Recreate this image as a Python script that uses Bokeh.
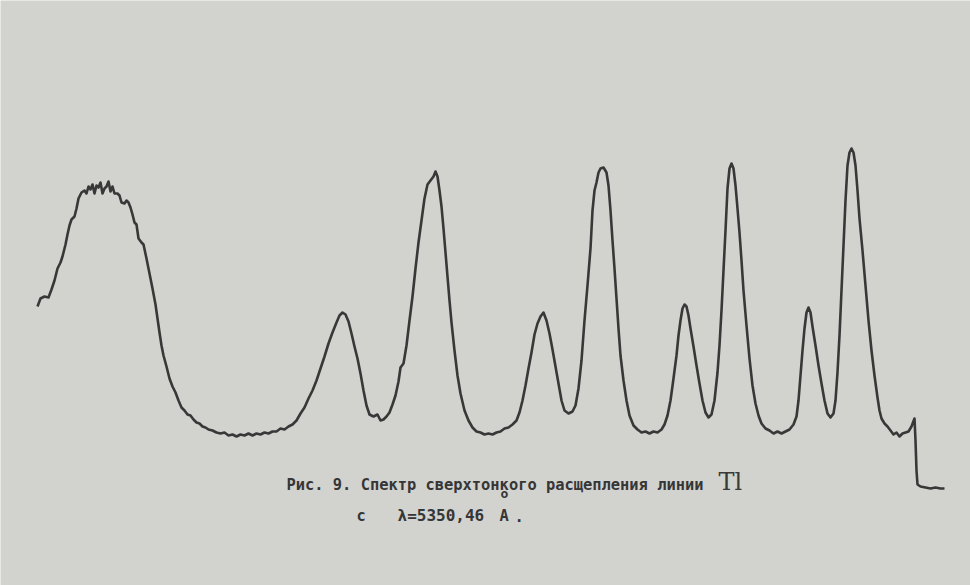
from bokeh.plotting import figure
from bokeh.models import Range1d
from bokeh.core.properties import value
from bokeh.embed import file_html
from bokeh.resources import INLINE

# Recorder trace: channel position and pen deflection (measured from top of chart, downwards)
channel = [37,40,44,48,51,54,57,60,62,65,67,69,71,74,76,78,81,84,86,88,90,92,94,96,98,100,102,104,106,108,110,112,114,117,119,121,124,126,128,130,132,134,136,138,141,143,146,148,150,152,155,157,159,161,163,166,169,172,175,178,181,184,187,190,193,196,199,202,205,208,212,216,220,224,228,232,236,240,244,248,252,256,260,264,268,272,276,280,284,288,292,296,300,304,308,312,316,320,324,328,332,336,339,342,345,348,351,354,357,360,363,366,369,373,377,380,383,386,389,392,395,398,400,403,406,409,412,415,418,421,424,427,430,433,435,437,439,441,443,445,447,449,451,454,457,460,464,468,472,476,480,484,488,492,496,500,504,508,512,516,519,522,525,528,531,534,537,540,543,546,549,552,555,558,561,564,568,572,575,578,581,584,587,590,592,594,596,598,600,603,606,608,610,612,614,616,618,620,623,626,629,633,637,641,645,649,653,657,661,664,667,670,673,676,678,680,682,684,686,688,690,693,696,699,702,705,708,711,714,717,719,721,723,725,727,729,731,733,735,737,739,741,743,746,749,752,755,758,761,765,769,773,777,781,785,789,793,796,798,800,802,804,806,808,810,812,815,818,821,824,827,830,833,835,837,839,841,843,845,847,849,851,853,855,857,859,862,865,868,871,874,877,879,881,884,887,890,893,896,899,902,905,908,911,914,915,916,917,920,925,930,935,940,944]
deflection = [306,298,296,297,289,280,268,262,256,244,234,225,219,216,208,198,192,190,193,186,189,184,193,185,187,182,193,188,186,181,191,186,193,193,195,202,203,200,202,207,214,222,224,238,242,244,258,268,278,288,304,318,332,345,355,366,378,386,392,400,407,410,414,415,419,422,423,426,427,429,430,432,433,432,435,434,436,434,435,433,435,433,434,432,433,431,431,428,429,426,424,420,413,407,398,390,380,368,356,343,332,322,315,312,314,321,333,346,358,373,390,405,414,416,414,420,419,416,412,404,395,381,367,363,345,320,296,268,242,220,198,184,180,176,171,176,190,206,228,252,276,300,322,350,375,393,410,420,427,431,432,434,433,434,432,431,428,427,424,420,412,400,385,368,352,334,323,316,312,320,333,349,366,383,400,410,413,411,405,388,360,320,285,248,210,190,182,172,168,167,172,185,210,240,268,298,328,355,380,400,415,425,429,432,431,433,431,432,429,424,415,400,378,355,335,320,308,304,306,315,328,346,365,383,400,412,417,414,400,372,345,310,270,230,188,168,163,168,185,208,232,260,290,325,358,385,403,415,423,428,430,433,431,433,431,429,424,416,400,375,350,328,312,307,312,326,345,365,383,400,413,417,413,400,372,335,290,245,200,165,152,148,152,165,190,218,250,285,320,350,375,397,410,418,423,426,430,434,432,436,433,432,431,426,418,440,470,484,486,487,488,487,488,488]

caption_1 = "Рис. 9. Спектр сверхтонкого расщепления линии"
element = "Tl"
caption_2a = "с"
caption_2b = "λ=5350,46"
unit_letter = "A"
unit_ring = "o"
period = "."

paper = "#d2d2cf"
ink = "#383838"

p = figure(width=970, height=585, output_backend="svg", toolbar_location=None,
           x_range=Range1d(0, 970), y_range=Range1d(585, 0),
           min_border=0, background_fill_color=paper, border_fill_color=paper)
p.axis.visible = False
p.grid.visible = False
p.outline_line_color = None

p.line(channel, deflection, line_color=ink, line_width=2.6, line_join="round")

font = value("DejaVu Sans Mono")
common = dict(text_color="#363636", text_font=font, text_font_style="bold",
              text_baseline="alphabetic", text_align="left")
p.text(x=[286], y=[484], text=[caption_1], text_font_size="15.4px", **common)
p.text(x=[718], y=[481], text=[element], text_font_size="24px",
       text_color="#3a3a3a", text_font=value("DejaVu Serif"), text_baseline="alphabetic")
p.text(x=[356], y=[515], text=[caption_2a], text_font_size="15.4px", **common)
p.text(x=[397], y=[515], text=[caption_2b], text_font_size="16px", **common)
p.text(x=[499], y=[515], text=[unit_letter], text_font_size="15.4px", **common)
p.text(x=[500], y=[493], text=[unit_ring], text_font_size="13px", **common)
p.text(x=[514], y=[515], text=[period], text_font_size="15.4px", **common)

open("out.html", "w").write(file_html(p, INLINE))
